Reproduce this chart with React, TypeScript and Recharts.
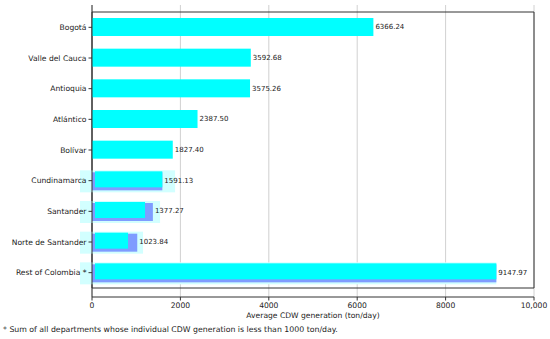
import { BarChart, Bar, XAxis, YAxis, CartesianGrid, ReferenceArea, LabelList } from "recharts";

const departments = [
  "Bogotá",
  "Valle del Cauca",
  "Antioquia",
  "Atlántico",
  "Bolívar",
  "Cundinamarca",
  "Santander",
  "Norte de Santander",
  "Rest of Colombia *",
];

// average CDW generation (ton/day), also used for the value labels
const cdwValues = [6366.24, 3592.68, 3575.26, 2387.5, 1827.4, 1591.13, 1377.27, 1023.84, 9147.97];

// the bottom rows in the figure carry a shifted copy of the bars
const frontValues = [6366.24, 3592.68, 3575.26, 2387.5, 1827.4, 1591.13, 1200, 815, 9147.97];
const shadowValues = [null, null, null, null, null, 1591.13, 1377.27, 1023.84, 9147.97];
const haloValues = [null, null, null, null, null, 1880, 1540, 1155, 9147.97];

const xTicks = [0, 2000, 4000, 6000, 8000, 10000];

const data = departments.map((name, i) => ({
  name,
  total: cdwValues[i],
  front: frontValues[i],
  shadow: shadowValues[i],
  halo: haloValues[i],
}));

const FONT = "DejaVu Sans, sans-serif";

function HaloShape(props: any) {
  const { x, y, width, height } = props;
  if (!width) return null;
  return <rect x={x - 12} y={y - 1} width={width + 12} height={height + 4} fill="#d2ffff" />;
}

function ShadowShape(props: any) {
  const { x, y, width, height } = props;
  if (!width) return null;
  return <rect x={x} y={y + 1} width={width} height={height} fill="#7f9cff" />;
}

function FrontShape(props: any) {
  const { x, y, width, height, payload } = props;
  if (!width) return null;
  if (payload.shadow != null) {
    return <rect x={x + 3} y={y} width={width - 3} height={height - 2} fill="#00ffff" />;
  }
  return <rect x={x} y={y} width={width} height={height} fill="#00ffff" />;
}

function DeptTick(props: any) {
  const { x, y, payload } = props;
  return (
    <text x={x} y={y} dy="0.35em" textAnchor="end" fontSize={7.6} fill="#222" fontFamily={FONT}>
      {payload.value}
    </text>
  );
}

export default function App() {
  return (
    <div style={{ position: "fixed", left: 0, top: 0, width: 550, height: 339, background: "#fff" }}>
      <BarChart
        width={550}
        height={339}
        data={data}
        layout="vertical"
        margin={{ top: 5, right: 16, left: 0, bottom: 0 }}
        barGap={-18}
      >
        <XAxis
          type="number"
          domain={[0, 10000]}
          ticks={xTicks}
          tickFormatter={(v) => (v === 10000 ? "10,000" : String(v))}
          tick={{ fontSize: 7.6, fill: "#222", fontFamily: FONT }}
          tickSize={3.5}
          tickMargin={2}
          stroke="#333"
          height={42}
          label={{
            value: "Average CDW generation (ton/day)",
            position: "insideBottom",
            offset: 21,
            style: { fontSize: 7.6, fill: "#222", fontFamily: FONT },
          }}
        />
        <YAxis
          type="category"
          dataKey="name"
          width={92}
          padding={{ top: 7, bottom: 9 }}
          tick={<DeptTick />}
          tickSize={3.5}
          tickMargin={2}
          stroke="#333"
        />
        <Bar dataKey="halo" barSize={18} shape={HaloShape} isAnimationActive={false} />
        <Bar dataKey="shadow" barSize={18} shape={ShadowShape} isAnimationActive={false} />
        <Bar dataKey="front" barSize={18} shape={FrontShape} isAnimationActive={false} />
        <Bar dataKey="total" barSize={18} fill="transparent" isAnimationActive={false}>
          <LabelList
            dataKey="total"
            position="right"
            offset={2}
            formatter={(v: any) => Number(v).toFixed(2)}
            style={{ fontSize: 7, fill: "#222", fontFamily: FONT }}
          />
        </Bar>
        <CartesianGrid horizontal={false} stroke="#b0b0b0" strokeOpacity={0.6} />
        <ReferenceArea x1={0} x2={10000} fill="none" fillOpacity={0} stroke="#333" strokeWidth={1} />
      </BarChart>
      <div
        style={{
          position: "absolute",
          left: 3,
          top: 325,
          fontSize: 7.8,
          fontFamily: FONT,
          color: "#222",
          whiteSpace: "nowrap",
        }}
      >
        * Sum of all departments whose individual CDW generation is less than 1000 ton/day.
      </div>
    </div>
  );
}
